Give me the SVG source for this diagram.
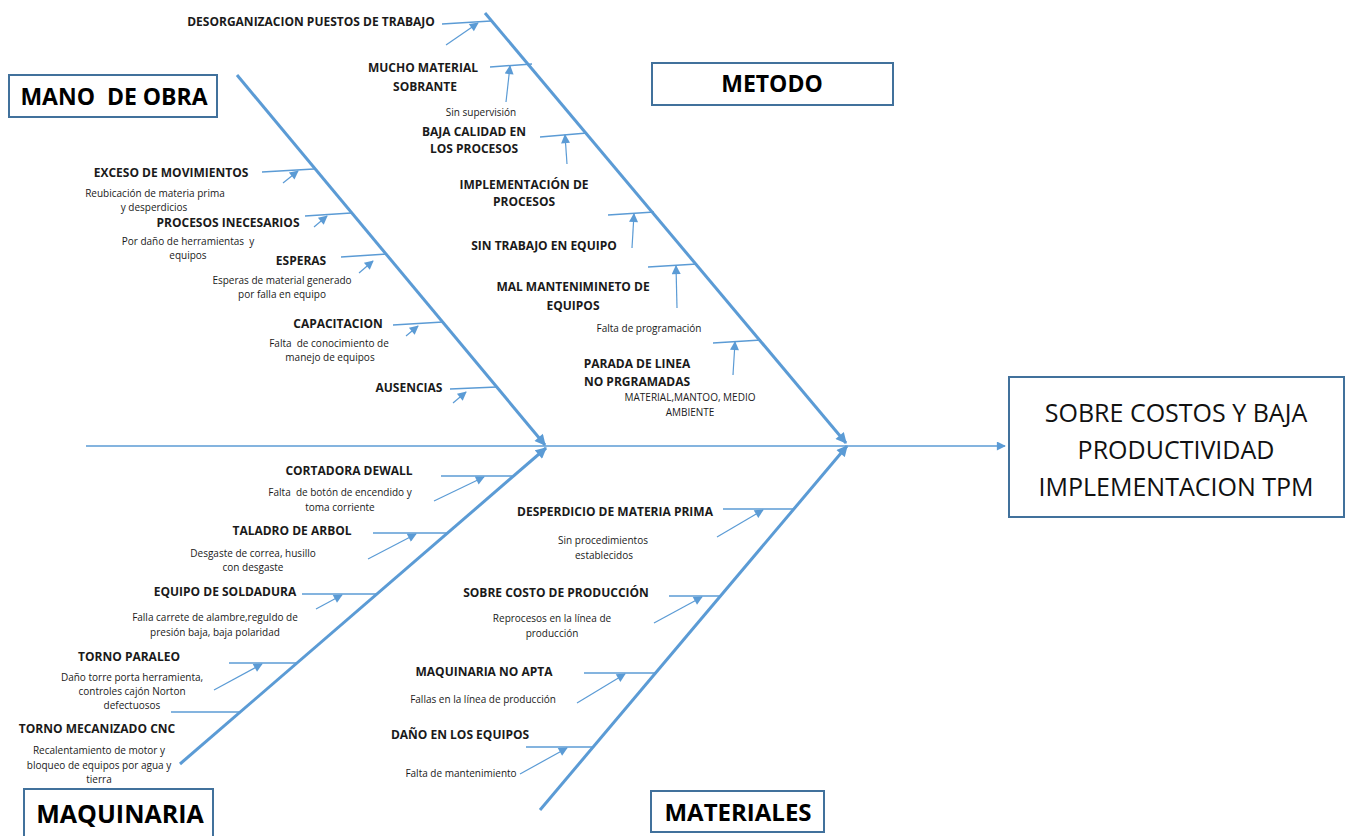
<svg xmlns="http://www.w3.org/2000/svg" width="1348" height="836" viewBox="0 0 1348 836">
<style>
text{font-family:"Open Sans","Liberation Sans",sans-serif;fill:#1a1a1a;text-anchor:middle}
.b{font-size:12px;font-weight:bold}
.s{font-size:10px}
.t{font-size:23px;font-weight:bold;fill:#000}
.r{font-size:25px;fill:#111}
.box{fill:#fff;stroke:#41719C;stroke-width:2}
.bone{stroke:#5B9BD5;stroke-width:3;fill:none}
.sub{stroke:#5B9BD5;stroke-width:1.5;fill:none}
.arr{stroke:#5B9BD5;stroke-width:1.2;fill:none}
</style>
<defs>
<marker id="big" viewBox="0 0 10 10" refX="9" refY="5" markerUnits="userSpaceOnUse" markerWidth="13" markerHeight="11" orient="auto"><path d="M0,0 L10,5 L0,10 z" fill="#5B9BD5"/></marker>
<marker id="sm" viewBox="0 0 10 10" refX="9" refY="5" markerUnits="userSpaceOnUse" markerWidth="11" markerHeight="9" orient="auto"><path d="M0,0 L10,5 L0,10 z" fill="#5B9BD5"/></marker>
</defs>
<rect width="1348" height="836" fill="#fff"/>
<g id="connectors">
<line class="sub" x1="86" y1="446" x2="1005" y2="446" marker-end="url(#sm)"/>
<line class="bone" x1="237" y1="75" x2="545" y2="445" marker-end="url(#big)"/>
<line class="bone" x1="485" y1="13" x2="846" y2="443" marker-end="url(#big)"/>
<line class="bone" x1="180" y1="764" x2="546" y2="448" marker-end="url(#big)"/>
<line class="bone" x1="540" y1="810" x2="847" y2="446" marker-end="url(#big)"/>
<line class="sub" x1="442" y1="24" x2="491" y2="21"/>
<line class="arr" x1="446" y1="45" x2="478" y2="23" marker-end="url(#sm)"/>
<line class="sub" x1="490" y1="67" x2="532" y2="64"/>
<line class="arr" x1="506" y1="102" x2="510" y2="66" marker-end="url(#sm)"/>
<line class="sub" x1="540" y1="137" x2="587" y2="133"/>
<line class="arr" x1="567" y1="164" x2="565" y2="135" marker-end="url(#sm)"/>
<line class="sub" x1="608" y1="215" x2="654" y2="212"/>
<line class="arr" x1="632" y1="248" x2="634" y2="214" marker-end="url(#sm)"/>
<line class="sub" x1="648" y1="267" x2="697" y2="264"/>
<line class="arr" x1="677" y1="308" x2="676" y2="266" marker-end="url(#sm)"/>
<line class="sub" x1="713" y1="343" x2="761" y2="340"/>
<line class="arr" x1="733" y1="375" x2="735" y2="342" marker-end="url(#sm)"/>
<line class="sub" x1="262" y1="172" x2="314" y2="169"/>
<line class="arr" x1="283" y1="183" x2="298" y2="171" marker-end="url(#sm)"/>
<line class="sub" x1="305" y1="216" x2="351" y2="213"/>
<line class="arr" x1="314" y1="227" x2="327" y2="216" marker-end="url(#sm)"/>
<line class="sub" x1="341" y1="257" x2="387" y2="254"/>
<line class="arr" x1="359" y1="273" x2="373" y2="261" marker-end="url(#sm)"/>
<line class="sub" x1="393" y1="325" x2="443" y2="322"/>
<line class="arr" x1="406" y1="336" x2="418" y2="326" marker-end="url(#sm)"/>
<line class="sub" x1="450" y1="389" x2="497" y2="387"/>
<line class="arr" x1="453" y1="403" x2="466" y2="392" marker-end="url(#sm)"/>
<line class="sub" x1="441" y1="476" x2="512" y2="476"/>
<line class="arr" x1="434" y1="501" x2="484" y2="477" marker-end="url(#sm)"/>
<line class="sub" x1="373" y1="533" x2="447" y2="533"/>
<line class="arr" x1="368" y1="559" x2="416" y2="534" marker-end="url(#sm)"/>
<line class="sub" x1="302" y1="594" x2="377" y2="594"/>
<line class="arr" x1="316" y1="609" x2="342" y2="595" marker-end="url(#sm)"/>
<line class="sub" x1="229" y1="663" x2="297" y2="663"/>
<line class="arr" x1="214" y1="690" x2="262" y2="664" marker-end="url(#sm)"/>
<line class="sub" x1="171" y1="712" x2="240" y2="712"/>
<line class="sub" x1="723" y1="509" x2="794" y2="509"/>
<line class="arr" x1="717" y1="537" x2="763" y2="510" marker-end="url(#sm)"/>
<line class="sub" x1="669" y1="596" x2="720" y2="596"/>
<line class="arr" x1="654" y1="623" x2="702" y2="597" marker-end="url(#sm)"/>
<line class="sub" x1="584" y1="673" x2="656" y2="673"/>
<line class="arr" x1="577" y1="703" x2="625" y2="674" marker-end="url(#sm)"/>
<line class="sub" x1="526" y1="747" x2="593" y2="747"/>
<line class="arr" x1="520" y1="774" x2="567" y2="748" marker-end="url(#sm)"/>
</g>
<g id="box-mano"><rect class="box" x="9" y="75" width="208" height="42"/><text class="t" x="114" y="105" xml:space="preserve">MANO  DE OBRA</text></g>
<g id="box-metodo"><rect class="box" x="652" y="63" width="241" height="42"/><text class="t" x="772" y="92">METODO</text></g>
<g id="box-maquinaria"><rect class="box" x="24" y="789" width="189" height="60"/><text class="t" x="120" y="823" style="font-size:25px">MAQUINARIA</text></g>
<g id="box-materiales"><rect class="box" x="651" y="791" width="173" height="41"/><text class="t" x="738" y="821" style="font-size:24px">MATERIALES</text></g>
<g id="effect"><rect class="box" x="1009" y="377" width="335" height="140"/>
<text class="r" x="1176" y="422">SOBRE COSTOS Y BAJA</text>
<text class="r" x="1176" y="459">PRODUCTIVIDAD</text>
<text class="r" x="1176" y="496">IMPLEMENTACION TPM</text></g>
<g id="c-desorganizacion"><text class="b" x="311" y="26">DESORGANIZACION PUESTOS DE TRABAJO</text></g>
<g id="c-mucho-material"><text class="b" x="423" y="72">MUCHO MATERIAL</text><text class="b" x="425" y="91">SOBRANTE</text><text class="s" x="481" y="116">Sin supervisión</text></g>
<g id="c-baja-calidad"><text class="b" x="474" y="136">BAJA CALIDAD EN</text><text class="b" x="474" y="153">LOS PROCESOS</text></g>
<g id="c-implementacion"><text class="b" x="524" y="189">IMPLEMENTACIÓN DE</text><text class="b" x="524" y="206">PROCESOS</text></g>
<g id="c-sin-trabajo"><text class="b" x="544" y="250">SIN TRABAJO EN EQUIPO</text></g>
<g id="c-mal-mantenimiento"><text class="b" x="573" y="291">MAL MANTENIMINETO DE</text><text class="b" x="573" y="310">EQUIPOS</text><text class="s" x="649" y="332">Falta de programación</text></g>
<g id="c-parada"><text class="b" x="637" y="368">PARADA DE LINEA</text><text class="b" x="637" y="386">NO PRGRAMADAS</text><text class="s" x="690" y="401">MATERIAL,MANTOO, MEDIO</text><text class="s" x="690" y="416">AMBIENTE</text></g>
<g id="c-exceso"><text class="b" x="171" y="177">EXCESO DE MOVIMIENTOS</text><text class="s" x="155" y="197">Reubicación de materia prima</text><text class="s" x="154" y="211">y desperdicios</text></g>
<g id="c-procesos"><text class="b" x="228" y="227">PROCESOS INECESARIOS</text><text class="s" x="188" y="245" xml:space="preserve">Por daño de herramientas  y</text><text class="s" x="188" y="259">equipos</text></g>
<g id="c-esperas"><text class="b" x="301" y="265">ESPERAS</text><text class="s" x="282" y="284">Esperas de material generado</text><text class="s" x="282" y="298">por falla en equipo</text></g>
<g id="c-capacitacion"><text class="b" x="338" y="328">CAPACITACION</text><text class="s" x="329" y="347" xml:space="preserve">Falta  de conocimiento de</text><text class="s" x="330" y="361">manejo de equipos</text></g>
<g id="c-ausencias"><text class="b" x="409" y="392">AUSENCIAS</text></g>
<g id="c-cortadora"><text class="b" x="349" y="475">CORTADORA DEWALL</text><text class="s" x="340" y="496" xml:space="preserve">Falta  de botón de encendido y</text><text class="s" x="340" y="511">toma corriente</text></g>
<g id="c-taladro"><text class="b" x="292" y="535">TALADRO DE ARBOL</text><text class="s" x="253" y="557">Desgaste de correa, husillo</text><text class="s" x="253" y="571">con desgaste</text></g>
<g id="c-soldadura"><text class="b" x="225" y="596">EQUIPO DE SOLDADURA</text><text class="s" x="215" y="621">Falla carrete de alambre,reguldo de</text><text class="s" x="215" y="636">presión baja, baja polaridad</text></g>
<g id="c-torno-paraleo"><text class="b" x="129" y="661">TORNO PARALEO</text><text class="s" x="132" y="681">Daño torre porta herramienta,</text><text class="s" x="132" y="695">controles cajón Norton</text><text class="s" x="132" y="709">defectuosos</text></g>
<g id="c-torno-cnc"><text class="b" x="97" y="733">TORNO MECANIZADO CNC</text><text class="s" x="99" y="754">Recalentamiento de motor y</text><text class="s" x="99" y="769">bloqueo de equipos por agua y</text><text class="s" x="99" y="783">tierra</text></g>
<g id="c-desperdicio"><text class="b" x="615" y="516">DESPERDICIO DE MATERIA PRIMA</text><text class="s" x="603" y="544">Sin procedimientos</text><text class="s" x="604" y="559">establecidos</text></g>
<g id="c-sobre-costo"><text class="b" x="556" y="597">SOBRE COSTO DE PRODUCCIÓN</text><text class="s" x="552" y="622">Reprocesos en la línea de</text><text class="s" x="552" y="637">producción</text></g>
<g id="c-maquinaria-no-apta"><text class="b" x="484" y="676">MAQUINARIA NO APTA</text><text class="s" x="483" y="703">Fallas en la línea de producción</text></g>
<g id="c-dano"><text class="b" x="460" y="739">DAÑO EN LOS EQUIPOS</text><text class="s" x="461" y="777">Falta de mantenimiento</text></g>
</svg>
